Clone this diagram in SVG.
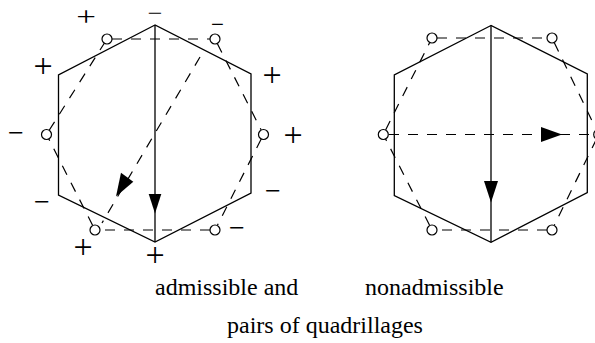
<svg xmlns="http://www.w3.org/2000/svg" width="595" height="343" viewBox="0 0 595 343">
<style>
.hex{fill:none;stroke:#000;stroke-width:1.3;stroke-linejoin:miter}
.solid{stroke:#000;stroke-width:1.3;fill:none}
.dash{stroke:#000;stroke-width:1.2;fill:none;stroke-dasharray:10,9}
.pt{fill:#fff;stroke:#000;stroke-width:1.2}
.head{fill:#000;stroke:none}
.sign{font-family:"Liberation Serif","Times New Roman",serif;fill:#000;text-anchor:middle}
.plus{font-size:34px}
.minus{font-size:28px}
.lbl{font-family:"Liberation Serif","Times New Roman",serif;font-size:24px;fill:#000}
</style>
<rect width="595" height="343" fill="#fff"/>

<g id="left-hexagon">
<polygon class="hex" points="155,25 58.5,75 58.5,195 155,242 251,193 251,74"/>
</g>
<g id="right-hexagon">
<polygon class="hex" points="491,25.5 394.3,75 394.3,195.5 491,242.3 587.3,192.7 587.3,74"/>
</g>

<g id="connectors">
<!-- left dashed quadrillage -->
<line class="dash" x1="112" y1="39" x2="210" y2="39"/>
<line class="dash" x1="217.3" y1="43.5" x2="261.2" y2="130"/>
<line class="dash" x1="261.2" y1="139" x2="217.3" y2="225.5"/>
<line class="dash" x1="210" y1="230" x2="100" y2="230"/>
<line class="dash" x1="92.7" y1="225.5" x2="48.8" y2="139"/>
<line class="dash" x1="49.2" y1="130.3" x2="104.3" y2="43.2"/>
<!-- right dashed quadrillage -->
<line class="dash" x1="437" y1="38" x2="547" y2="38"/>
<line class="dash" x1="554.2" y1="42.5" x2="596.5" y2="130"/>
<line class="dash" x1="596.5" y1="139" x2="554.2" y2="225.5"/>
<line class="dash" x1="547" y1="230" x2="437" y2="230"/>
<line class="dash" x1="429.7" y1="225.5" x2="385.6" y2="139"/>
<line class="dash" x1="385.6" y1="130" x2="429.7" y2="42.5"/>
<!-- left arrows -->
<line class="solid" x1="155" y1="25" x2="155" y2="242"/>
<polygon class="head" points="148.7,194 161.3,194 155,213.5"/>
<line class="dash" x1="200" y1="57" x2="102" y2="223"/>
<polygon class="head" points="121,172.7 133.3,181.7 116,196.5"/>
<!-- right arrows -->
<line class="solid" x1="491" y1="25.5" x2="491" y2="242.3"/>
<polygon class="head" points="484,181 498,181 491,202.5"/>
<line class="dash" x1="389" y1="134.5" x2="594" y2="134.5"/>
<polygon class="head" points="541,127 541,142 562,134.5"/>
</g>

<g id="left-points">
<circle class="pt" cx="107" cy="39" r="5"/>
<circle class="pt" cx="215" cy="39" r="5"/>
<circle class="pt" cx="263.5" cy="134.5" r="5"/>
<circle class="pt" cx="215" cy="230" r="5"/>
<circle class="pt" cx="95" cy="230" r="5"/>
<circle class="pt" cx="46.5" cy="134.5" r="5"/>
</g>
<g id="right-points">
<circle class="pt" cx="432" cy="38" r="5"/>
<circle class="pt" cx="552" cy="38" r="5"/>
<circle class="pt" cx="598.7" cy="134.5" r="5"/>
<circle class="pt" cx="552" cy="230" r="5"/>
<circle class="pt" cx="432" cy="230" r="5"/>
<circle class="pt" cx="383.3" cy="134.5" r="5"/>
</g>

<g id="signs">
<text class="sign" x="0" y="0" style="font-size:28px" transform="translate(86,25.6) scale(1.25,1)">+</text>
<text class="sign plus" x="43" y="76.6">+</text>
<text class="sign plus" x="272" y="85.6">+</text>
<text class="sign plus" x="293" y="145.6">+</text>
<text class="sign plus" x="83" y="257.6">+</text>
<text class="sign plus" x="155" y="265.6">+</text>
<text class="sign" x="0" y="0" style="font-size:21px" transform="translate(155,19.5) scale(1.25,1)">−</text>
<text class="sign minus" x="217.5" y="32" style="font-size:23px">−</text>
<text class="sign minus" x="16" y="141.5">−</text>
<text class="sign minus" x="42" y="211">−</text>
<text class="sign minus" x="273" y="200">−</text>
<text class="sign minus" x="237" y="237">−</text>
</g>

<g id="labels">
<text class="lbl" x="155" y="295">admissible and</text>
<text class="lbl" x="365" y="295">nonadmissible</text>
<text class="lbl" x="227" y="333">pairs of quadrillages</text>
</g>
</svg>
